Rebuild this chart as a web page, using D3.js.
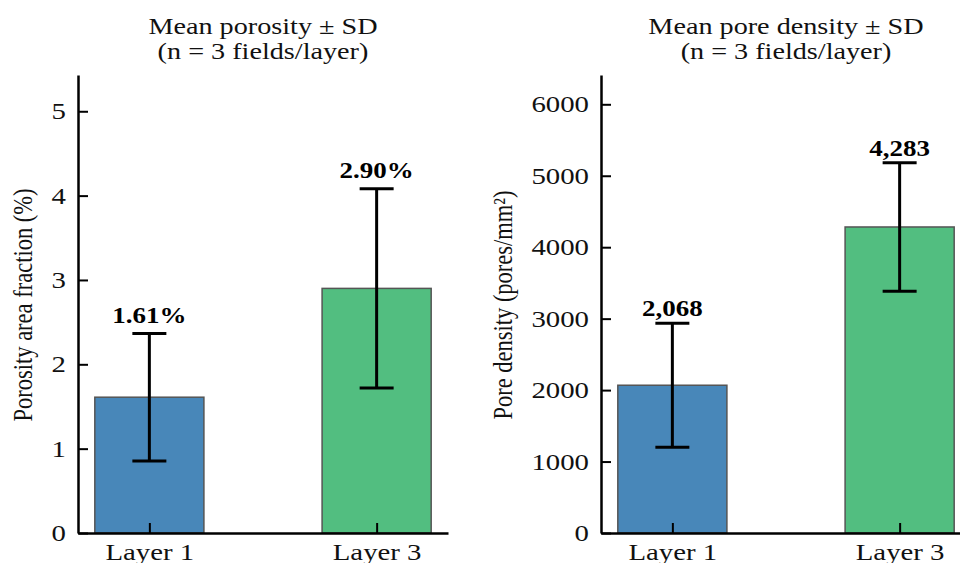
<!DOCTYPE html>
<html>
<head>
<meta charset="utf-8">
<script src="https://cdn.jsdelivr.net/npm/d3@7"></script>
<style>
  body { margin: 0; background: #fff; }
  svg { display: block; }
  text { font-family: "Liberation Serif", "Times New Roman", serif; }
  .tick text { fill: #111; }
</style>
</head>
<body>
<div id="chart"></div>
<script>
// categories and values
var layers = ["Layer 1", "Layer 3"];
var porosityMean = [1.61, 2.90];
var porositySD = [0.755, 1.18];
var densityMean = [2068, 4283];
var densitySD = [867, 898];
var porosityTicks = [0, 1, 2, 3, 4, 5];
var densityTicks = [0, 1000, 2000, 3000, 4000, 5000, 6000];

var colors = ["#4887b9", "#52be80"];

// the reference glyphs are stretched sideways, so every label gets this
var sx = 1.2;
var fs = "24px";

var W = 960, H = 563;
var svg = d3.select("#chart").append("svg")
    .attr("width", W)
    .attr("height", H);

// horizontal text stretched around its own anchor point
function wideText(sel, x, y) {
    return sel.attr("x", x / sx).attr("y", y).attr("transform", "scale(" + sx + ",1)");
}

function drawPanel(opt) {
    var x = d3.scaleLinear().domain([-0.314, 1.314]).range([opt.left, opt.left + 370]);
    var y = d3.scaleLinear().domain([0, opt.ymax]).range([533, 75]);
    var bw = x(0.48) - x(0);

    var g = svg.append("g");

    // bars
    g.selectAll("rect.bar")
        .data(opt.mean)
        .enter()
        .append("rect")
        .attr("class", "bar")
        .attr("x", (d, i) => x(i) - bw / 2)
        .attr("y", d => y(d))
        .attr("width", bw)
        .attr("height", d => y(0) - y(d))
        .attr("fill", (d, i) => colors[i])
        .attr("stroke", "#555")
        .attr("stroke-width", 1.5);

    // error bars
    var eb = g.selectAll("g.err")
        .data(opt.mean)
        .enter()
        .append("g")
        .attr("class", "err")
        .attr("stroke", "#000")
        .attr("stroke-width", 3);
    eb.append("line")
        .attr("x1", (d, i) => x(i)).attr("x2", (d, i) => x(i))
        .attr("y1", (d, i) => y(d - opt.sd[i]))
        .attr("y2", (d, i) => y(d + opt.sd[i]));
    [-1, 1].forEach(function (s) {
        eb.append("line")
            .attr("x1", (d, i) => x(i) - 17).attr("x2", (d, i) => x(i) + 17)
            .attr("y1", (d, i) => y(d + s * opt.sd[i]))
            .attr("y2", (d, i) => y(d + s * opt.sd[i]));
    });

    // value labels
    g.selectAll("text.val")
        .data(opt.mean)
        .enter()
        .append("text")
        .attr("class", "val")
        .each(function (d, i) {
            wideText(d3.select(this), x(i), y(d + opt.sd[i]) - opt.labelGap);
        })
        .attr("text-anchor", "middle")
        .style("font-weight", "bold")
        .style("font-size", "22.5px")
        .text(opt.fmt);

    // y axis
    var ya = g.append("g")
        .attr("transform", "translate(" + opt.left + ",0)")
        .call(d3.axisLeft(y).tickValues(opt.ticks).tickFormat(d3.format("d"))
            .tickSizeInner(-10).tickSizeOuter(0).tickPadding(12));
    ya.select(".domain").attr("stroke-width", 2.5);
    ya.selectAll(".tick line").attr("stroke-width", 2);
    ya.selectAll(".tick text")
        .style("font-size", fs)
        .attr("x", -12 / sx)
        .attr("transform", "scale(" + sx + ",1)");

    // x axis
    var xa = g.append("g")
        .attr("transform", "translate(0,533)")
        .call(d3.axisBottom(x).tickValues([0, 1]).tickFormat(i => layers[i])
            .tickSizeInner(-10).tickSizeOuter(0).tickPadding(10));
    xa.select(".domain").attr("stroke-width", 2.5);
    xa.selectAll(".tick line").attr("stroke-width", 2);
    xa.selectAll(".tick text")
        .style("font-size", fs)
        .attr("transform", "scale(" + sx + ",1)");

    // y label
    g.append("text")
        .attr("transform", "translate(" + opt.labelX + ",305) rotate(-90) scale(1," + sx + ")")
        .attr("text-anchor", "middle")
        .attr("dominant-baseline", "central")
        .style("font-size", "22.5px")
        .style("fill", "#111")
        .text(opt.ylabel);

    // title
    var cx = opt.left + 185;
    var t = g.append("text")
        .attr("text-anchor", "middle")
        .attr("transform", "scale(" + sx + ",1)")
        .style("font-size", "23.5px")
        .style("fill", "#111");
    t.append("tspan").attr("x", cx / sx).attr("y", 34).text(opt.title[0]);
    t.append("tspan").attr("x", cx / sx).attr("y", 59).text(opt.title[1]);
}

drawPanel({
    left: 78, ymax: 5.43, mean: porosityMean, sd: porositySD, ticks: porosityTicks,
    labelGap: 11, labelX: 23, fmt: d => d.toFixed(2) + "%",
    ylabel: "Porosity area fraction (%)",
    title: ["Mean porosity ± SD", "(n = 3 fields/layer)"]
});
drawPanel({
    left: 601, ymax: 6410, mean: densityMean, sd: densitySD, ticks: densityTicks,
    labelGap: 7, labelX: 503, fmt: d => d3.format(",")(d),
    ylabel: "Pore density (pores/mm²)",
    title: ["Mean pore density ± SD", "(n = 3 fields/layer)"]
});
</script>
</body>
</html>
